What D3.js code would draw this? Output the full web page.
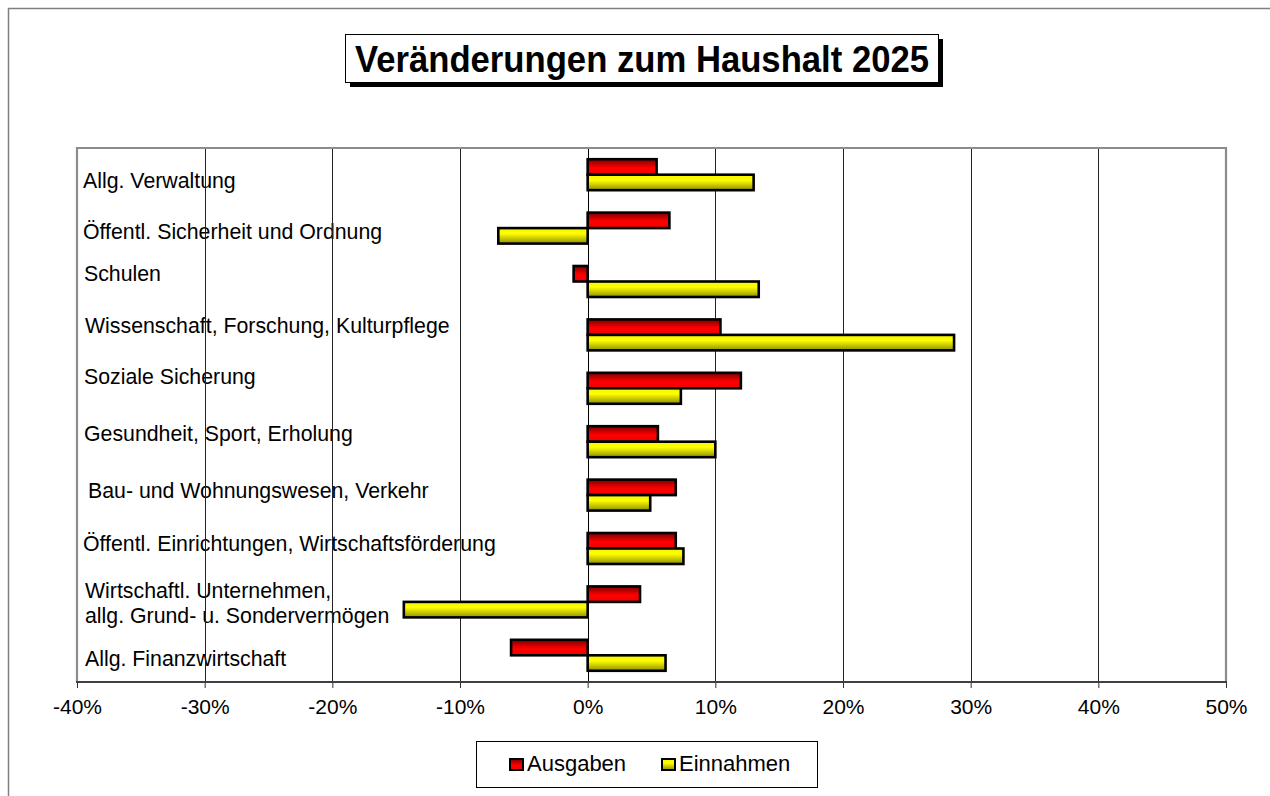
<!DOCTYPE html>
<html lang="de">
<head>
<meta charset="UTF-8">
<title>Veränderungen zum Haushalt 2025</title>
<style>
    body { margin: 0; background: #fff; }
    svg { display: block; font-family: "Liberation Sans", Arial, sans-serif; }
    .lbl { font-size: 21.3px; fill: #000; }
    .tick text { font-size: 21px; fill: #000; }
    .tick line { stroke: #333; }
</style>
</head>
<body>
<script src="https://d3js.org/d3.v7.min.js"></script>
<script>
// data (percent change vs. previous budget)
const categories = [
    'Allg. Verwaltung',
    'Öffentl. Sicherheit und Ordnung',
    'Schulen',
    'Wissenschaft, Forschung, Kulturpflege',
    'Soziale Sicherung',
    'Gesundheit, Sport, Erholung',
    'Bau- und Wohnungswesen, Verkehr',
    'Öffentl. Einrichtungen, Wirtschaftsförderung',
    'Wirtschaftl. Unternehmen,\nallg. Grund- u. Sondervermögen',
    'Allg. Finanzwirtschaft'
];
const ausgaben = [5.4, 6.4, -1.1, 10.4, 12.0, 5.5, 6.9, 6.9, 4.1, -6.0];
const einnahmen = [13.0, -7.0, 13.4, 28.7, 7.3, 10.0, 4.9, 7.5, -14.4, 6.1];
const series = ['Ausgaben', 'Einnahmen'];
const ticks = [-40, -30, -20, -10, 0, 10, 20, 30, 40, 50];

// label placement (hand-placed text boxes in the original)
const labelDy = [13, 11, -0.5, -2, -4, -1, 3, 2.5, -4, 11];
const labelX = [83, 83, 84, 85, 84, 84, 88, 83, 85, 85];

const W = 1270, H = 796;
const m = { l: 77, r: 1226, t: 148, b: 682 };

const svg = d3.select('body').append('svg')
    .attr('width', W)
    .attr('height', H);

const defs = svg.append('defs');
const gradRed = defs.append('linearGradient').attr('id', 'gRed')
    .attr('x1', 0).attr('y1', 0).attr('x2', 0).attr('y2', 1);
gradRed.append('stop').attr('offset', '0%').attr('stop-color', '#7a0000');
gradRed.append('stop').attr('offset', '55%').attr('stop-color', '#ff0000');
gradRed.append('stop').attr('offset', '100%').attr('stop-color', '#f00000');
const gradYel = defs.append('linearGradient').attr('id', 'gYel')
    .attr('x1', 0).attr('y1', 0).attr('x2', 0).attr('y2', 1);
gradYel.append('stop').attr('offset', '0%').attr('stop-color', '#f4f400');
gradYel.append('stop').attr('offset', '35%').attr('stop-color', '#ffff00');
gradYel.append('stop').attr('offset', '100%').attr('stop-color', '#8f8f00');
const fills = { Ausgaben: 'url(#gRed)', Einnahmen: 'url(#gYel)' };

// outer frame
svg.append('path')
    .attr('d', `M8.5,${H} V8.5 H${W}`)
    .attr('fill', 'none')
    .attr('stroke', '#808080')
    .attr('stroke-width', 1.5);

// title
svg.append('rect')
    .attr('x', 350).attr('y', 39).attr('width', 593).attr('height', 48)
    .attr('fill', '#000');
svg.append('rect')
    .attr('x', 345.5).attr('y', 34.5).attr('width', 593).attr('height', 48)
    .attr('fill', '#fff').attr('stroke', '#000').attr('stroke-width', 1);
svg.append('text')
    .attr('x', 642).attr('y', 72)
    .attr('text-anchor', 'middle')
    .attr('font-size', 36)
    .attr('font-weight', 'bold')
    .attr('textLength', 574)
    .attr('lengthAdjust', 'spacingAndGlyphs')
    .text('Veränderungen zum Haushalt 2025');

// scales
const x = d3.scaleLinear().domain([-40, 50]).range([m.l, m.r]);
const y = d3.scaleBand().domain(categories).range([m.t, m.b])
    .paddingInner(0.42).paddingOuter(0.21);
const ys = d3.scaleBand().domain(series).range([0, y.bandwidth()]);

// category labels
categories.forEach((c, i) => {
    const cy = y(c) + y.bandwidth() / 2 + labelDy[i];
    const lines = c.split('\n');
    const t = svg.append('text').attr('class', 'lbl');
    lines.forEach((ln, j) => {
        t.append('tspan')
            .attr('x', labelX[i])
            .attr('y', cy + (j - (lines.length - 1) / 2) * 25 + (lines.length > 1 ? 12.5 : 0))
            .text(ln);
    });
});

// gridlines
svg.append('g').selectAll('line')
    .data(ticks.slice(1, -1))
    .enter().append('line')
    .attr('x1', d => Math.round(x(d)) + 0.5)
    .attr('x2', d => Math.round(x(d)) + 0.5)
    .attr('y1', m.t).attr('y2', m.b)
    .attr('stroke', d => d === 0 ? '#000' : '#222')
    .attr('stroke-width', 1);

// bars
const rows = categories.map((c, i) => ({ c, Ausgaben: ausgaben[i], Einnahmen: einnahmen[i] }));
const grp = svg.append('g').selectAll('g')
    .data(rows)
    .enter().append('g')
    .attr('transform', d => `translate(0,${y(d.c)})`);

grp.selectAll('rect')
    .data(d => series.map(s => ({ s, v: d[s] })))
    .enter().append('rect')
    .attr('x', d => x(Math.min(0, d.v)))
    .attr('width', d => Math.abs(x(d.v) - x(0)))
    .attr('y', d => ys(d.s))
    .attr('height', ys.bandwidth())
    .attr('fill', d => fills[d.s])
    .attr('stroke', '#000')
    .attr('stroke-width', 2.6);

// plot border
svg.append('path')
    .attr('d', `M${m.l},${m.b} V${m.t} H${m.r} V${m.b}`)
    .attr('fill', 'none')
    .attr('stroke', '#8c8c8c')
    .attr('stroke-width', 2.2);

// x axis
const ax = svg.append('g')
    .attr('transform', `translate(0,${m.b})`)
    .call(d3.axisBottom(x).tickValues(ticks).tickFormat(d => d + '%')
        .tickSize(6).tickPadding(11));
ax.select('.domain').remove();
ax.selectAll('.tick text').attr('font-family', null);
svg.append('line')
    .attr('x1', m.l - 1).attr('x2', m.r + 1)
    .attr('y1', m.b).attr('y2', m.b)
    .attr('stroke', '#404040').attr('stroke-width', 2);

// legend
const lg = svg.append('g');
lg.append('rect')
    .attr('x', 476.5).attr('y', 741.5).attr('width', 341).attr('height', 46)
    .attr('fill', '#fff').attr('stroke', '#000').attr('stroke-width', 1);
const lx = [510, 662];
series.forEach((s, i) => {
    lg.append('rect')
        .attr('x', lx[i]).attr('y', 759).attr('width', 13).attr('height', 11)
        .attr('fill', fills[s]).attr('stroke', '#000').attr('stroke-width', 2);
    lg.append('text')
        .attr('x', lx[i] + 17).attr('y', 771)
        .attr('font-size', 22)
        .text(s);
});
</script>
</body>
</html>
